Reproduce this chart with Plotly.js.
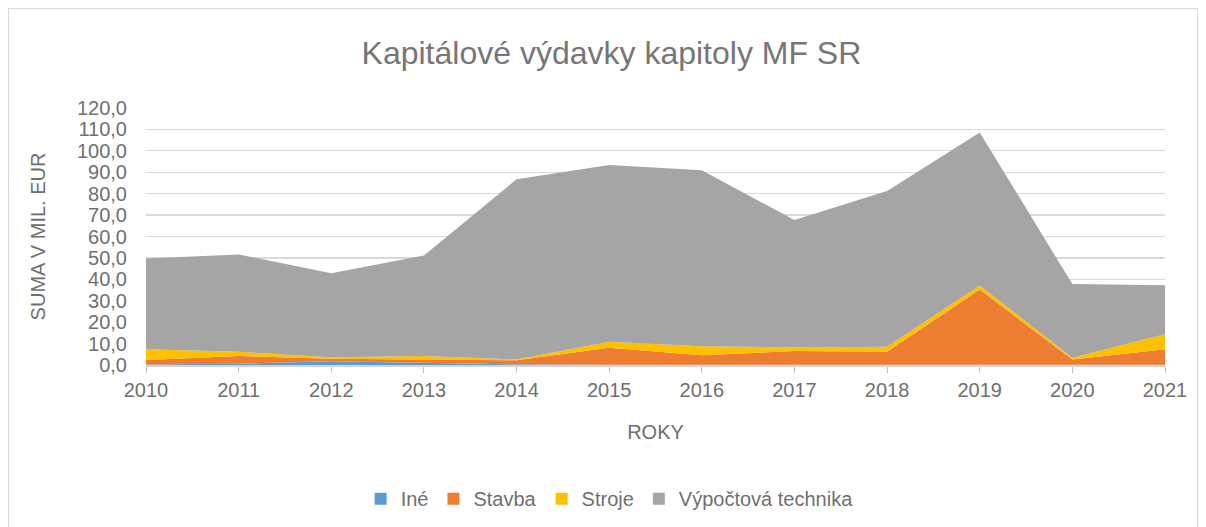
<!DOCTYPE html>
<html>
<head>
<meta charset="utf-8">
<script src="https://cdn.plot.ly/plotly-3.0.1.min.js"></script>
<style>
  html, body { margin: 0; padding: 0; background: #ffffff; }
  #frame { position: absolute; left: 8px; top: 8px; width: 1190px; height: 530px; border: 1px solid #d9d9d9; box-sizing: border-box; pointer-events: none; }
  #chart { position: absolute; left: 0; top: 0; width: 1206px; height: 527px; }
</style>
</head>
<body>
<div id="frame"></div>
<div id="chart"></div>
<script>
const years = [2010, 2011, 2012, 2013, 2014, 2015, 2016, 2017, 2018, 2019, 2020, 2021];
const ine = [0.2, 0.6, 1.8, 1.0, 0.3, 0.1, 0.1, 0.1, 0.1, 0.1, 0.1, 0.1];
const stavba = [2.1, 3.6, 1.1, 1.5, 1.9, 8.0, 4.4, 6.4, 6.1, 35.1, 2.5, 7.3];
const stroje = [5.0, 2.0, 0.7, 1.7, 0.4, 2.8, 4.3, 1.7, 2.3, 1.9, 0.8, 7.0];
const vypoctova = [42.4, 45.4, 39.2, 46.9, 84.1, 82.5, 82.1, 59.5, 72.8, 71.5, 34.4, 22.8];
const yTicks = [0, 10, 20, 30, 40, 50, 60, 70, 80, 90, 100, 110, 120];

const seriesNames = ['Iné', 'Stavba', 'Stroje', 'Výpočtová technika'];
const seriesData = [ine, stavba, stroje, vypoctova];
const colors = ['#5b9bd5', '#ed7d31', '#ffc000', '#a5a5a5'];

const FONT = '"Liberation Sans Narrow", "Arial Narrow", "Liberation Sans", Arial, sans-serif';
const TXT = '#6f6f6f';

const traces = seriesNames.map((n, i) => ({
  type: 'scatter',
  mode: 'lines',
  x: years,
  y: seriesData[i],
  name: n,
  stackgroup: 'one',
  line: { width: 0, color: colors[i] },
  fillcolor: colors[i],
  showlegend: false,
  hoverinfo: 'x+y+name'
}));

// legend-only entries with square swatches
const legendTraces = seriesNames.map((n, i) => ({
  type: 'scatter',
  mode: 'markers',
  x: [null],
  y: [null],
  name: n,
  marker: { symbol: 'square', size: 12, color: colors[i] },
  showlegend: true,
  hoverinfo: 'skip'
}));

const layout = {
  width: 1206,
  height: 527,
  paper_bgcolor: 'rgba(0,0,0,0)',
  plot_bgcolor: 'rgba(0,0,0,0)',
  margin: { l: 146, r: 41, t: 108, b: 162, autoexpand: false },
  separators: ', ',
  font: { family: FONT, color: TXT, size: 20 },
  title: {
    text: 'Kapitálové výdavky kapitoly MF SR',
    font: { family: FONT, size: 32, color: '#767676' },
    x: 0.507, xref: 'container', xanchor: 'center',
    y: 0.9, yref: 'container', yanchor: 'middle'
  },
  xaxis: {
    range: [2010, 2021],
    automargin: false,
    tickvals: years,
    ticktext: years.map(String),
    ticks: 'outside',
    ticklen: 6,
    tickcolor: '#bfbfbf',
    showline: true,
    linecolor: '#d0d4d9',
    linewidth: 1.5,
    showgrid: false,
    zeroline: false,
    tickfont: { family: FONT, size: 20, color: TXT },
    title: { text: 'ROKY', font: { family: FONT, size: 20, color: TXT }, standoff: 25 }
  },
  yaxis: {
    range: [0, 120],
    automargin: false,
    tickvals: yTicks,
    tickformat: '.1f',
    showgrid: true,
    gridcolor: '#d9d9d9',
    gridwidth: 1.3,
    zeroline: false,
    showline: false,
    ticks: '',
    ticklabelstandoff: 18,
    tickfont: { family: FONT, size: 20, color: TXT },
    title: { text: 'SUMA V MIL. EUR', font: { family: FONT, size: 20, color: TXT }, standoff: 25 }
  },
  legend: {
    orientation: 'h',
    x: 0.455, xanchor: 'center',
    y: -0.52, yanchor: 'middle',
    font: { family: FONT, size: 20, color: TXT },
    traceorder: 'normal',
    itemwidth: 30
  },
  showlegend: true
};

Plotly.newPlot('chart', traces.concat(legendTraces), layout, { displayModeBar: false, staticPlot: true });
</script>
</body>
</html>
